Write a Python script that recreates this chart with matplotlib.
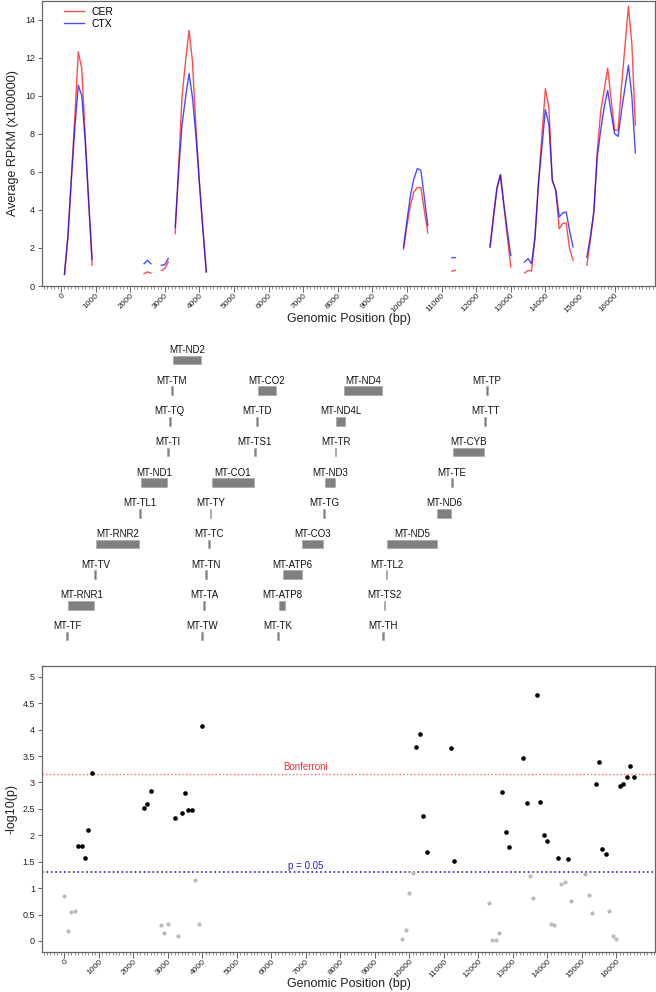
import numpy as np
import matplotlib
matplotlib.use("Agg")
import matplotlib.pyplot as plt
from matplotlib.patches import Rectangle
from matplotlib.ticker import MultipleLocator

plt.rcParams['font.family'] = ['Liberation Sans', 'DejaVu Sans']

nan = np.nan

# --- top panel: average RPKM along the genome (gaps = nan)
rpkm_pos = [100, 200, 300, 400, 500, 600, 700, 800, 900, 1000,
            2400, 2500, 2600, 2700,
            2900, 3000, 3100, 3200,
            3300, 3400, 3500, 3600, 3700, 3800, 3900, 4000, 4100, 4200, 4300,
            9900, 10000, 10100, 10200, 10300, 10400, 10500, 10600, 10700,
            11300, 11400, 11500,
            12400, 12500, 12600, 12700, 12800, 12900, 13000, 13100,
            13400, 13500, 13600, 13700, 13800, 13900, 14000, 14100, 14200,
            14300, 14400, 14500, 14600, 14700, 14800, 14900,
            15200, 15300, 15400, 15500, 15600, 15700, 15800, 15900, 16000,
            16100, 16200, 16300, 16400, 16500, 16600]
cer = [0.61, 2.58, 5.75, 8.9, 12.3, 11.42, 7.9, 4.45, 1.09, nan,
       0.65, 0.74, 0.68, nan,
       0.82, 0.91, 1.26, nan,
       2.75, 6.3, 10.0, 11.8, 13.44, 11.8, 8.3, 5.5, 3.0, 0.74, nan,
       1.93, 3.19, 4.24, 4.94, 5.17, 5.17, 3.98, 2.79, nan,
       0.78, 0.82, nan,
       2.05, 3.7, 5.2, 5.85, 4.2, 2.6, 1.0, nan,
       0.68, 0.82, 0.79, 2.57, 5.4, 7.9, 10.37, 9.4, 5.55,
       5.03, 3.0, 3.28, 3.31, 1.96, 1.35, nan,
       1.09, 2.4, 3.89, 7.1, 9.2, 10.3, 11.45, 9.8, 8.18,
       8.18, 10.5, 12.6, 14.7, 12.7, 8.44]
ctx = [0.61, 2.6, 5.6, 8.3, 10.55, 10.0, 7.6, 4.4, 1.4, nan,
       1.17, 1.35, 1.17, nan,
       1.09, 1.12, 1.44, nan,
       3.1, 6.0, 8.5, 9.9, 11.16, 9.9, 7.9, 5.4, 3.0, 0.74, nan,
       2.05, 3.45, 4.77, 5.64, 6.17, 6.08, 4.68, 3.19, nan,
       1.49, 1.49, nan,
       2.05, 3.6, 5.1, 5.85, 4.3, 2.9, 1.61, nan,
       1.26, 1.44, 1.17, 2.57, 5.4, 7.3, 9.26, 8.5, 5.55,
       5.03, 3.63, 3.84, 3.89, 2.9, 2.05, nan,
       1.52, 2.6, 3.89, 6.8, 8.2, 9.4, 10.28, 9.1, 8.0,
       7.86, 9.2, 10.4, 11.6, 9.93, 6.99]

# --- middle panel: mitochondrial genes
gene_names = ["MT-TF", "MT-RNR1", "MT-TV", "MT-RNR2", "MT-TL1", "MT-ND1", "MT-TI",
              "MT-TQ", "MT-TM", "MT-ND2", "MT-TW", "MT-TA", "MT-TN", "MT-TC",
              "MT-TY", "MT-CO1", "MT-TS1", "MT-TD", "MT-CO2", "MT-TK", "MT-ATP8",
              "MT-ATP6", "MT-CO3", "MT-TG", "MT-ND3", "MT-TR", "MT-ND4L", "MT-ND4",
              "MT-TH", "MT-TS2", "MT-TL2", "MT-ND5", "MT-ND6", "MT-TE", "MT-CYB",
              "MT-TT", "MT-TP"]
gene_start = [577, 648, 1602, 1671, 3230, 3307, 4263, 4329, 4402, 4470, 5512, 5587,
              5657, 5761, 5826, 5904, 7446, 7518, 7586, 8295, 8366, 8527, 9207, 9991,
              10059, 10405, 10470, 10760, 12138, 12207, 12266, 12337, 14149, 14674,
              14747, 15888, 15956]
gene_end = [647, 1601, 1670, 3229, 3304, 4262, 4331, 4400, 4469, 5511, 5579, 5655,
            5729, 5826, 5891, 7445, 7514, 7585, 8269, 8364, 8572, 9207, 9990, 10058,
            10404, 10469, 10766, 12137, 12206, 12265, 12336, 14148, 14673, 14742,
            15887, 15953, 16023]
gene_row = [0, 1, 2, 3, 4, 5, 6, 7, 8, 9,
            0, 1, 2, 3, 4, 5, 6, 7, 8,
            0, 1, 2, 3, 4, 5, 6, 7, 8,
            0, 1, 2, 3, 4, 5, 6, 7, 8]

# --- bottom panel: association p-values
p_pos = [0, 100, 200, 300, 400, 500, 600, 700, 800, 2300, 2400, 2500, 2800, 2900,
         3000, 3200, 3300, 3400, 3500, 3600, 3700, 3800, 3900, 4000, 9800, 9900,
         10000, 10100, 10200, 10300, 10400, 10500, 11200, 11300, 12300, 12400,
         12500, 12600, 12700, 12800, 12900, 13300, 13400, 13500, 13600, 13700,
         13800, 13900, 14000, 14100, 14200, 14300, 14400, 14500, 14600, 14700,
         15100, 15200, 15300, 15400, 15500, 15600, 15700, 15800, 15900, 16000,
         16100, 16200, 16300, 16400, 16500]
p_logp = [0.85, 0.18, 0.55, 0.56, 1.80, 1.80, 1.57, 2.10, 3.18, 2.51, 2.60, 2.83,
          0.30, 0.16, 0.32, 2.33, 0.09, 2.42, 2.80, 2.48, 2.47, 1.15, 0.32, 4.07,
          0.03, 0.21, 0.90, 1.28, 3.67, 3.91, 2.36, 1.69, 3.65, 1.52, 0.71, 0.02,
          0.02, 0.15, 2.82, 2.07, 1.78, 3.47, 2.62, 1.23, 0.81, 4.65, 2.63, 2.01,
          1.90, 0.33, 0.30, 1.57, 1.07, 1.11, 1.56, 0.75, 1.26, 0.87, 0.52, 2.98,
          3.39, 1.75, 1.65, 0.56, 0.09, 0.04, 2.93, 2.97, 3.11, 3.32, 3.10]
bonferroni = 3.16
p05 = -np.log10(0.05)

W, H = 656, 992
FRAME = '#666666'
TXT = '#222222'


def style_axis(ax):
    for s in ax.spines.values():
        s.set_color(FRAME)
        s.set_linewidth(0.9)
    ax.set_xticks(np.arange(0, 16001, 1000))
    ax.xaxis.set_minor_locator(MultipleLocator(100))
    ax.tick_params(axis='x', which='major', length=4, width=0.7, color=FRAME,
                   labelsize=6, labelcolor=TXT, pad=0.5)
    ax.tick_params(axis='x', which='minor', length=2, width=0.5, color=FRAME)
    ax.tick_params(axis='y', length=3, width=0.7, color=FRAME, labelsize=6.5,
                   labelcolor=TXT, pad=2)
    for lab in ax.get_xticklabels():
        lab.set_rotation(45)
        lab.set_ha('right')
        lab.set_va('top')
        lab.set_rotation_mode('anchor')


def frac(x0, y0, x1, y1):
    return [x0 / W, 1 - y1 / H, (x1 - x0) / W, (y1 - y0) / H]


fig = plt.figure(figsize=(W / 100, H / 100), dpi=100)

# top panel
ax1 = fig.add_axes(frac(42, 0.5, 655, 286))
ax1.plot(rpkm_pos, cer, color='#ff0000', alpha=0.7, lw=1.0, label='CER')
ax1.plot(rpkm_pos, ctx, color='#0000ff', alpha=0.7, lw=1.0, label='CTX')
ax1.set_ylim(0, 15)
ax1.set_yticks(np.arange(0, 15, 2))
style_axis(ax1)
ax1.set_xlim(-549, 17168)
ax1.set_ylabel("Average RPKM (x100000)", fontsize=9, color=TXT, labelpad=4)
ax1.set_xlabel("Genomic Position (bp)", fontsize=9, color=TXT, labelpad=-1)
ax1.legend(loc='upper left', bbox_to_anchor=(0.02, 1.01), frameon=False,
           fontsize=7.5, handlelength=2.0, handletextpad=0.7, labelspacing=0.15)

# middle panel: gene track
ax2 = fig.add_axes(frac(50.6, 345, 503, 645))
ax2.set_xlim(0, 16569)
ax2.set_ylim(-0.293, 9.49)
ax2.axis('off')
bh = 0.28
for name, s, e, r in zip(gene_names, gene_start, gene_end, gene_row):
    ax2.add_patch(Rectangle((s, r - bh / 2), e - s, bh, facecolor='#808080',
                            edgecolor='#a0a0a0', lw=0.4))
    ax2.text((s + e) / 2, r + bh / 2 + 0.09, name, ha='center', va='baseline',
             fontsize=7, color='#111111')

# bottom panel
ax3 = fig.add_axes(frac(42, 666, 655, 951.7))
p_pos_a = np.array(p_pos)
p_logp_a = np.array(p_logp)
sig = p_logp_a > p05
ax3.scatter(p_pos_a[~sig], p_logp_a[~sig], s=9, color='#bbbbbb', lw=0, zorder=3)
ax3.scatter(p_pos_a[sig], p_logp_a[sig], s=11, color='black', lw=0, zorder=3)
ax3.axhline(bonferroni, color='#ff6666', ls=':', lw=1.0)
ax3.axhline(p05, color='#2222cc', ls=':', lw=1.2)
ax3.text(7000, bonferroni + 0.03, "Bonferroni", color='#dd3333', fontsize=7,
         ha='center', va='bottom')
ax3.text(7000, p05 + 0.03, "p = 0.05", color='#2222cc', fontsize=7,
         ha='center', va='bottom')
ax3.set_ylim(-0.203, 5.204)
yt = np.arange(0, 5.01, 0.5)
ax3.set_yticks(yt)
ax3.set_yticklabels([f"{v:g}" for v in yt])
style_axis(ax3)
ax3.set_xlim(-646, 17122)
ax3.set_ylabel("-log10(p)", fontsize=9, color=TXT, labelpad=4)
ax3.set_xlabel("Genomic Position (bp)", fontsize=9, color=TXT, labelpad=-1.5)

fig.savefig("out.png", dpi=100)
